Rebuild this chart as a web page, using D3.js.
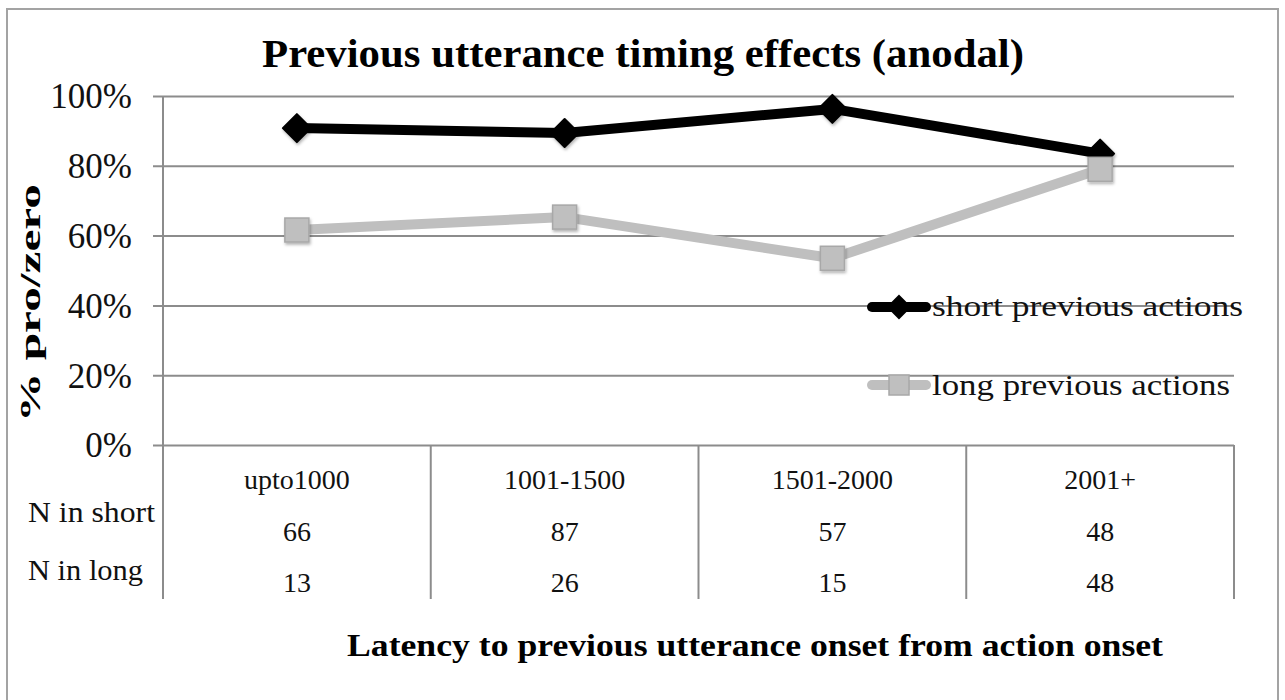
<!DOCTYPE html>
<html>
<head>
<meta charset="utf-8">
<script src="https://cdn.jsdelivr.net/npm/d3@7"></script>
<style>
  body { margin: 0; background: #fff; }
  svg { display: block; font-family: "Liberation Serif", "Times New Roman", serif; }
</style>
</head>
<body>
<svg id="chart" width="1285" height="700"></svg>
<script>
// chart values
var categories = ["upto1000", "1001-1500", "1501-2000", "2001+"];
var shortVals = [0.908, 0.894, 0.963, 0.835];
var longVals = [0.616, 0.653, 0.535, 0.79];
var nShort = [66, 87, 57, 48];
var nLong = [13, 26, 15, 48];
var yTicks = [0, 0.2, 0.4, 0.6, 0.8, 1];
var seriesNames = ["short previous actions", "long previous actions"];

var svg = d3.select("#chart");

var plotLeft = 163, plotRight = 1234, plotTop = 96, plotBottom = 445;
var x = d3.scaleBand().domain(categories).range([plotLeft, plotRight]).padding(0);
var y = d3.scaleLinear().domain([0, 1]).range([plotBottom, plotTop]);

var gridColor = "#8c8c8c";

// outer frame
svg.append("rect")
    .attr("x", 7).attr("y", 9)
    .attr("width", 1271).attr("height", 720)
    .attr("fill", "none")
    .attr("stroke", "#a3a3a3")
    .attr("stroke-width", 2);

// drop shadow for markers
var defs = svg.append("defs");
var f = defs.append("filter").attr("id", "shadow")
    .attr("x", "-50%").attr("y", "-50%").attr("width", "200%").attr("height", "200%");
f.append("feDropShadow")
    .attr("dx", 1).attr("dy", 2).attr("stdDeviation", 1.5)
    .attr("flood-color", "#000").attr("flood-opacity", 0.3);

// title
svg.append("text")
    .attr("x", 643).attr("y", 67)
    .attr("text-anchor", "middle")
    .attr("font-weight", "bold")
    .attr("font-size", 39)
    .attr("textLength", 762)
    .attr("lengthAdjust", "spacingAndGlyphs")
    .text("Previous utterance timing effects (anodal)");

// y axis with gridlines
var yAxis = d3.axisLeft(y)
    .tickValues(yTicks)
    .tickSize(-(plotRight - plotLeft))
    .tickPadding(31)
    .tickFormat(d3.format(".0%"));

var gy = svg.append("g")
    .attr("transform", "translate(" + plotLeft + ",0)")
    .call(yAxis);
gy.select(".domain").remove();
gy.selectAll(".tick line")
    .attr("x1", -10)
    .attr("stroke", gridColor)
    .attr("stroke-width", 2);
gy.selectAll(".tick text")
    .attr("font-family", "'Liberation Serif', serif")
    .attr("font-size", 35)
    .attr("fill", "#111")
    .attr("dy", "0.34em");

// left axis line running down into the table
svg.append("line")
    .attr("x1", plotLeft).attr("x2", plotLeft)
    .attr("y1", plotTop).attr("y2", 599)
    .attr("stroke", gridColor).attr("stroke-width", 2);

// table separators under the plot
svg.append("g").selectAll("line")
    .data(categories)
    .enter().append("line")
    .attr("x1", function(d) { return x(d) + x.bandwidth(); })
    .attr("x2", function(d) { return x(d) + x.bandwidth(); })
    .attr("y1", plotBottom).attr("y2", 599)
    .attr("stroke", gridColor).attr("stroke-width", 2);

// category labels and counts
var cx = function(d) { return x(d) + x.bandwidth() / 2; };
var table = svg.append("g").attr("font-size", 28).attr("fill", "#111").attr("text-anchor", "middle");
table.selectAll(".cat").data(categories).enter().append("text")
    .attr("x", cx).attr("y", 489).text(function(d) { return d; });
table.selectAll(".ns").data(categories).enter().append("text")
    .attr("x", cx).attr("y", 541).text(function(d, i) { return nShort[i]; });
table.selectAll(".nl").data(categories).enter().append("text")
    .attr("x", cx).attr("y", 592).text(function(d, i) { return nLong[i]; });

svg.append("text").attr("x", 28).attr("y", 522).attr("font-size", 29).attr("fill", "#111")
    .attr("textLength", 127).attr("lengthAdjust", "spacingAndGlyphs")
    .text("N in short");
svg.append("text").attr("x", 28).attr("y", 580).attr("font-size", 29).attr("fill", "#111")
    .attr("textLength", 115).attr("lengthAdjust", "spacingAndGlyphs")
    .text("N in long");

// axis titles
svg.append("text")
    .attr("transform", "translate(40,303) rotate(-90)")
    .attr("text-anchor", "middle")
    .attr("font-weight", "bold")
    .attr("font-size", 30)
    .attr("textLength", 238)
    .attr("lengthAdjust", "spacingAndGlyphs")
    .text("% pro/zero");

svg.append("text")
    .attr("x", 755).attr("y", 656)
    .attr("text-anchor", "middle")
    .attr("font-weight", "bold")
    .attr("font-size", 32)
    .attr("textLength", 816)
    .attr("lengthAdjust", "spacingAndGlyphs")
    .text("Latency to previous utterance onset from action onset");

// lines
var line = d3.line()
    .x(function(d, i) { return cx(categories[i]); })
    .y(function(d) { return y(d); });

var longColor = "#bfbfbf", longStroke = "#a8a8a8";

svg.append("path")
    .datum(longVals)
    .attr("d", line)
    .attr("fill", "none")
    .attr("stroke", longColor)
    .attr("stroke-width", 10)
    .attr("stroke-linejoin", "round");

svg.append("path")
    .datum(shortVals)
    .attr("d", line)
    .attr("fill", "none")
    .attr("stroke", "#000")
    .attr("stroke-width", 10)
    .attr("stroke-linejoin", "round");

var diamond = function(cxp, cyp, r) {
  return "M" + cxp + "," + (cyp - r) + "L" + (cxp + r) + "," + cyp +
         "L" + cxp + "," + (cyp + r) + "L" + (cxp - r) + "," + cyp + "Z";
};

svg.append("g").selectAll("path")
    .data(shortVals)
    .enter().append("path")
    .attr("d", function(d, i) { return diamond(cx(categories[i]), y(d), 14); })
    .attr("fill", "#000")
    .attr("stroke", "#000")
    .attr("stroke-width", 2)
    .attr("stroke-linejoin", "round")
    .attr("filter", "url(#shadow)");

svg.append("g").selectAll("rect")
    .data(longVals)
    .enter().append("rect")
    .attr("x", function(d, i) { return cx(categories[i]) - 12; })
    .attr("y", function(d) { return y(d) - 12; })
    .attr("width", 24).attr("height", 24)
    .attr("fill", longColor)
    .attr("stroke", longStroke)
    .attr("stroke-width", 1.5)
    .attr("filter", "url(#shadow)");

// legend
var lg = svg.append("g");
lg.append("line")
    .attr("x1", 872).attr("x2", 926).attr("y1", 307).attr("y2", 307)
    .attr("stroke", "#000").attr("stroke-width", 10).attr("stroke-linecap", "round");
lg.append("path")
    .attr("d", diamond(899, 307, 11))
    .attr("fill", "#000").attr("stroke", "#000").attr("stroke-width", 2);
lg.append("text")
    .attr("x", 932).attr("y", 316)
    .attr("font-size", 30).attr("fill", "#111")
    .attr("textLength", 311).attr("lengthAdjust", "spacingAndGlyphs")
    .text(seriesNames[0]);

lg.append("line")
    .attr("x1", 872).attr("x2", 926).attr("y1", 385).attr("y2", 385)
    .attr("stroke", longColor).attr("stroke-width", 10).attr("stroke-linecap", "round");
lg.append("rect")
    .attr("x", 889).attr("y", 375).attr("width", 20).attr("height", 20)
    .attr("fill", longColor).attr("stroke", longStroke).attr("stroke-width", 1.5);
lg.append("text")
    .attr("x", 932).attr("y", 395)
    .attr("font-size", 30).attr("fill", "#111")
    .attr("textLength", 298).attr("lengthAdjust", "spacingAndGlyphs")
    .text(seriesNames[1]);
</script>
</body>
</html>
